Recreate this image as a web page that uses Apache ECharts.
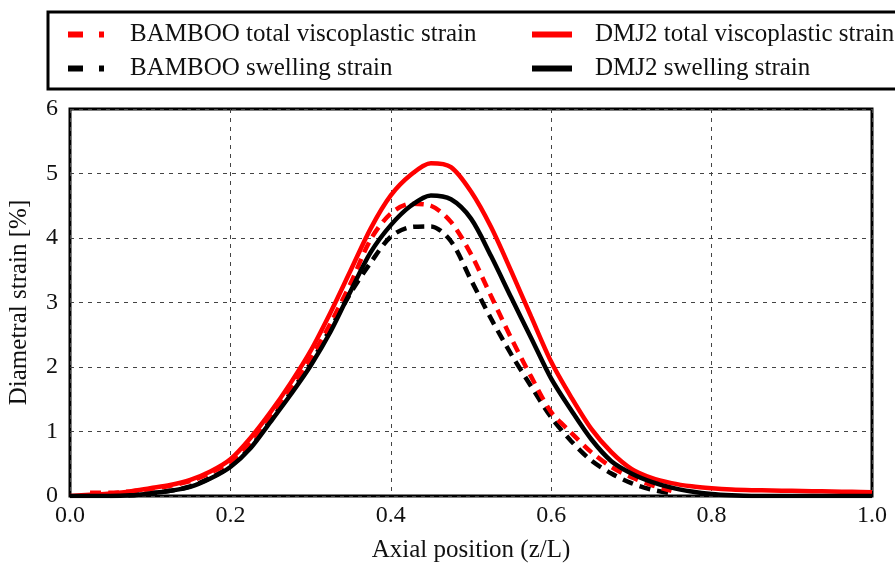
<!DOCTYPE html>
<html>
<head>
<meta charset="utf-8">
<script src="https://cdn.jsdelivr.net/npm/echarts@6/dist/echarts.min.js"></script>
<style>
  html, body { margin: 0; padding: 0; background: #fff; }
  #strain_main { width: 895px; height: 564px; }
</style>
</head>
<body>
<div id="strain_main"></div>
<script>
var StrainChart;
var option;

// axial position z/L
var zPos = [0, 0.025, 0.05, 0.075, 0.1, 0.125, 0.15, 0.175, 0.2, 0.225,
            0.25, 0.275, 0.3, 0.325, 0.35, 0.375, 0.4, 0.425, 0.45, 0.475,
            0.5, 0.525, 0.55, 0.575, 0.6, 0.625, 0.65, 0.675, 0.7, 0.725,
            0.75, 0.775, 0.8, 0.825, 0.85, 0.875, 0.9, 0.925, 0.95, 0.975, 1.0];

// diametral strain [%]
var bambooTotal = [null, 0.05, 0.05, 0.07, 0.11, 0.16, 0.23, 0.36, 0.53, 0.83,
                   1.22, 1.66, 2.13, 2.68, 3.30, 3.98, 4.38, 4.53, 4.50, 4.25,
                   3.75, 3.10, 2.45, 1.85, 1.30, 0.98, 0.68, 0.45, 0.29, 0.17,
                   0.08, null, null, null, null, null, null, null, null, null, null];
var bambooSwell = [null, null, 0.00, 0.01, 0.04, 0.08, 0.15, 0.28, 0.46, 0.76,
                   1.17, 1.60, 2.06, 2.60, 3.15, 3.62, 4.02, 4.17, 4.18, 3.95,
                   3.35, 2.75, 2.20, 1.70, 1.22, 0.85, 0.55, 0.35, 0.20, 0.10,
                   0.04, null, null, null, null, null, null, null, null, null, null];
var dmj2Total = [0.00, 0.02, 0.04, 0.07, 0.12, 0.17, 0.25, 0.38, 0.57, 0.90,
                 1.30, 1.75, 2.25, 2.85, 3.50, 4.15, 4.66, 4.98, 5.16, 5.10,
                 4.72, 4.17, 3.49, 2.78, 2.08, 1.53, 1.04, 0.68, 0.42, 0.28,
                 0.20, 0.15, 0.12, 0.10, 0.09, 0.085, 0.08, 0.075, 0.07, 0.065, 0.06];
var dmj2Swell = [0.00, 0.00, 0.00, 0.01, 0.04, 0.08, 0.14, 0.27, 0.45, 0.74,
                 1.15, 1.57, 2.02, 2.55, 3.18, 3.78, 4.20, 4.50, 4.66, 4.60,
                 4.30, 3.72, 3.08, 2.45, 1.82, 1.33, 0.88, 0.54, 0.35, 0.22,
                 0.13, 0.07, 0.03, 0.01, 0.00, 0.00, 0.00, 0.00, 0.00, 0.00, 0.00];

function pairs(ys) {
    var out = [];
    for (var i = 0; i < zPos.length; i++) {
        if (ys[i] !== null) out.push([zPos[i], ys[i]]);
    }
    return out;
}

var serif = 'Liberation Serif';
var txt = '#111';

StrainChart = echarts.init(document.getElementById('strain_main'));

option = {
    animation: false,
    textStyle: { fontFamily: serif },
    graphic: [{
        type: 'rect',
        shape: { x: 48, y: 12, width: 900, height: 77 },
        style: { fill: 'none', stroke: '#000', lineWidth: 3 },
        silent: true
    }],
    legend: [{
        orient: 'vertical',
        left: 65,
        top: 22,
        padding: 0,
        itemWidth: 36,
        itemHeight: 14,
        itemGap: 9,
        itemStyle: { opacity: 0 },
        lineStyle: { width: 6, type: [15, 16] },
        textStyle: { fontFamily: serif, fontSize: 25, color: txt, padding: [0, 0, 0, 21] },
        data: ['BAMBOO total viscoplastic strain', 'BAMBOO swelling strain']
    }, {
        orient: 'vertical',
        left: 529,
        top: 22,
        padding: 0,
        itemWidth: 40,
        itemHeight: 14,
        itemGap: 9,
        itemStyle: { opacity: 0 },
        lineStyle: { width: 6 },
        textStyle: { fontFamily: serif, fontSize: 25, color: txt, padding: [0, 0, 0, 18] },
        data: ['DMJ2 total viscoplastic strain', 'DMJ2 swelling strain']
    }],
    grid: {
        left: 70,
        right: 23,
        top: 109,
        bottom: 68,
        outerBoundsMode: 'none',
        show: true,
        borderColor: '#000',
        borderWidth: 3
    },
    xAxis: {
        type: 'value',
        min: 0,
        max: 1,
        interval: 0.2,
        name: 'Axial position (z/L)',
        nameLocation: 'middle',
        nameGap: 42,
        nameTextStyle: { fontFamily: serif, fontSize: 25, color: txt },
        axisLine: { show: false },
        axisTick: { show: false },
        axisLabel: {
            margin: 8,
            fontFamily: serif,
            fontSize: 24,
            color: txt,
            formatter: function (v) { return v.toFixed(1); }
        },
        splitLine: { show: true, lineStyle: { color: '#444', width: 1, type: [4, 5] } }
    },
    yAxis: {
        type: 'value',
        min: 0,
        max: 6,
        interval: 1,
        name: 'Diametral strain [%]',
        nameLocation: 'middle',
        nameGap: 38,
        nameTextStyle: { fontFamily: serif, fontSize: 25, color: txt },
        axisLine: { show: false },
        axisTick: { show: false },
        axisLabel: { margin: 12, fontFamily: serif, fontSize: 24, color: txt },
        splitLine: { show: true, lineStyle: { color: '#444', width: 1, type: [4, 5] } }
    },
    series: [{
        name: 'BAMBOO swelling strain',
        type: 'line',
        data: pairs(bambooSwell),
        smooth: 0.3,
        showSymbol: false,
        symbol: 'none',
        lineStyle: { color: '#000', width: 4.5, type: [11, 7] },
        itemStyle: { color: '#000' }
    }, {
        name: 'BAMBOO total viscoplastic strain',
        type: 'line',
        data: pairs(bambooTotal),
        smooth: 0.3,
        showSymbol: false,
        symbol: 'none',
        lineStyle: { color: '#ff0000', width: 4.5, type: [11, 7] },
        itemStyle: { color: '#ff0000' }
    }, {
        name: 'DMJ2 total viscoplastic strain',
        type: 'line',
        data: pairs(dmj2Total),
        smooth: 0.3,
        showSymbol: false,
        symbol: 'none',
        lineStyle: { color: '#ff0000', width: 4.5 },
        itemStyle: { color: '#ff0000' }
    }, {
        name: 'DMJ2 swelling strain',
        type: 'line',
        data: pairs(dmj2Swell),
        smooth: 0.3,
        showSymbol: false,
        symbol: 'none',
        lineStyle: { color: '#000', width: 4.5 },
        itemStyle: { color: '#000' }
    }]
};

StrainChart.setOption(option);
</script>
</body>
</html>
